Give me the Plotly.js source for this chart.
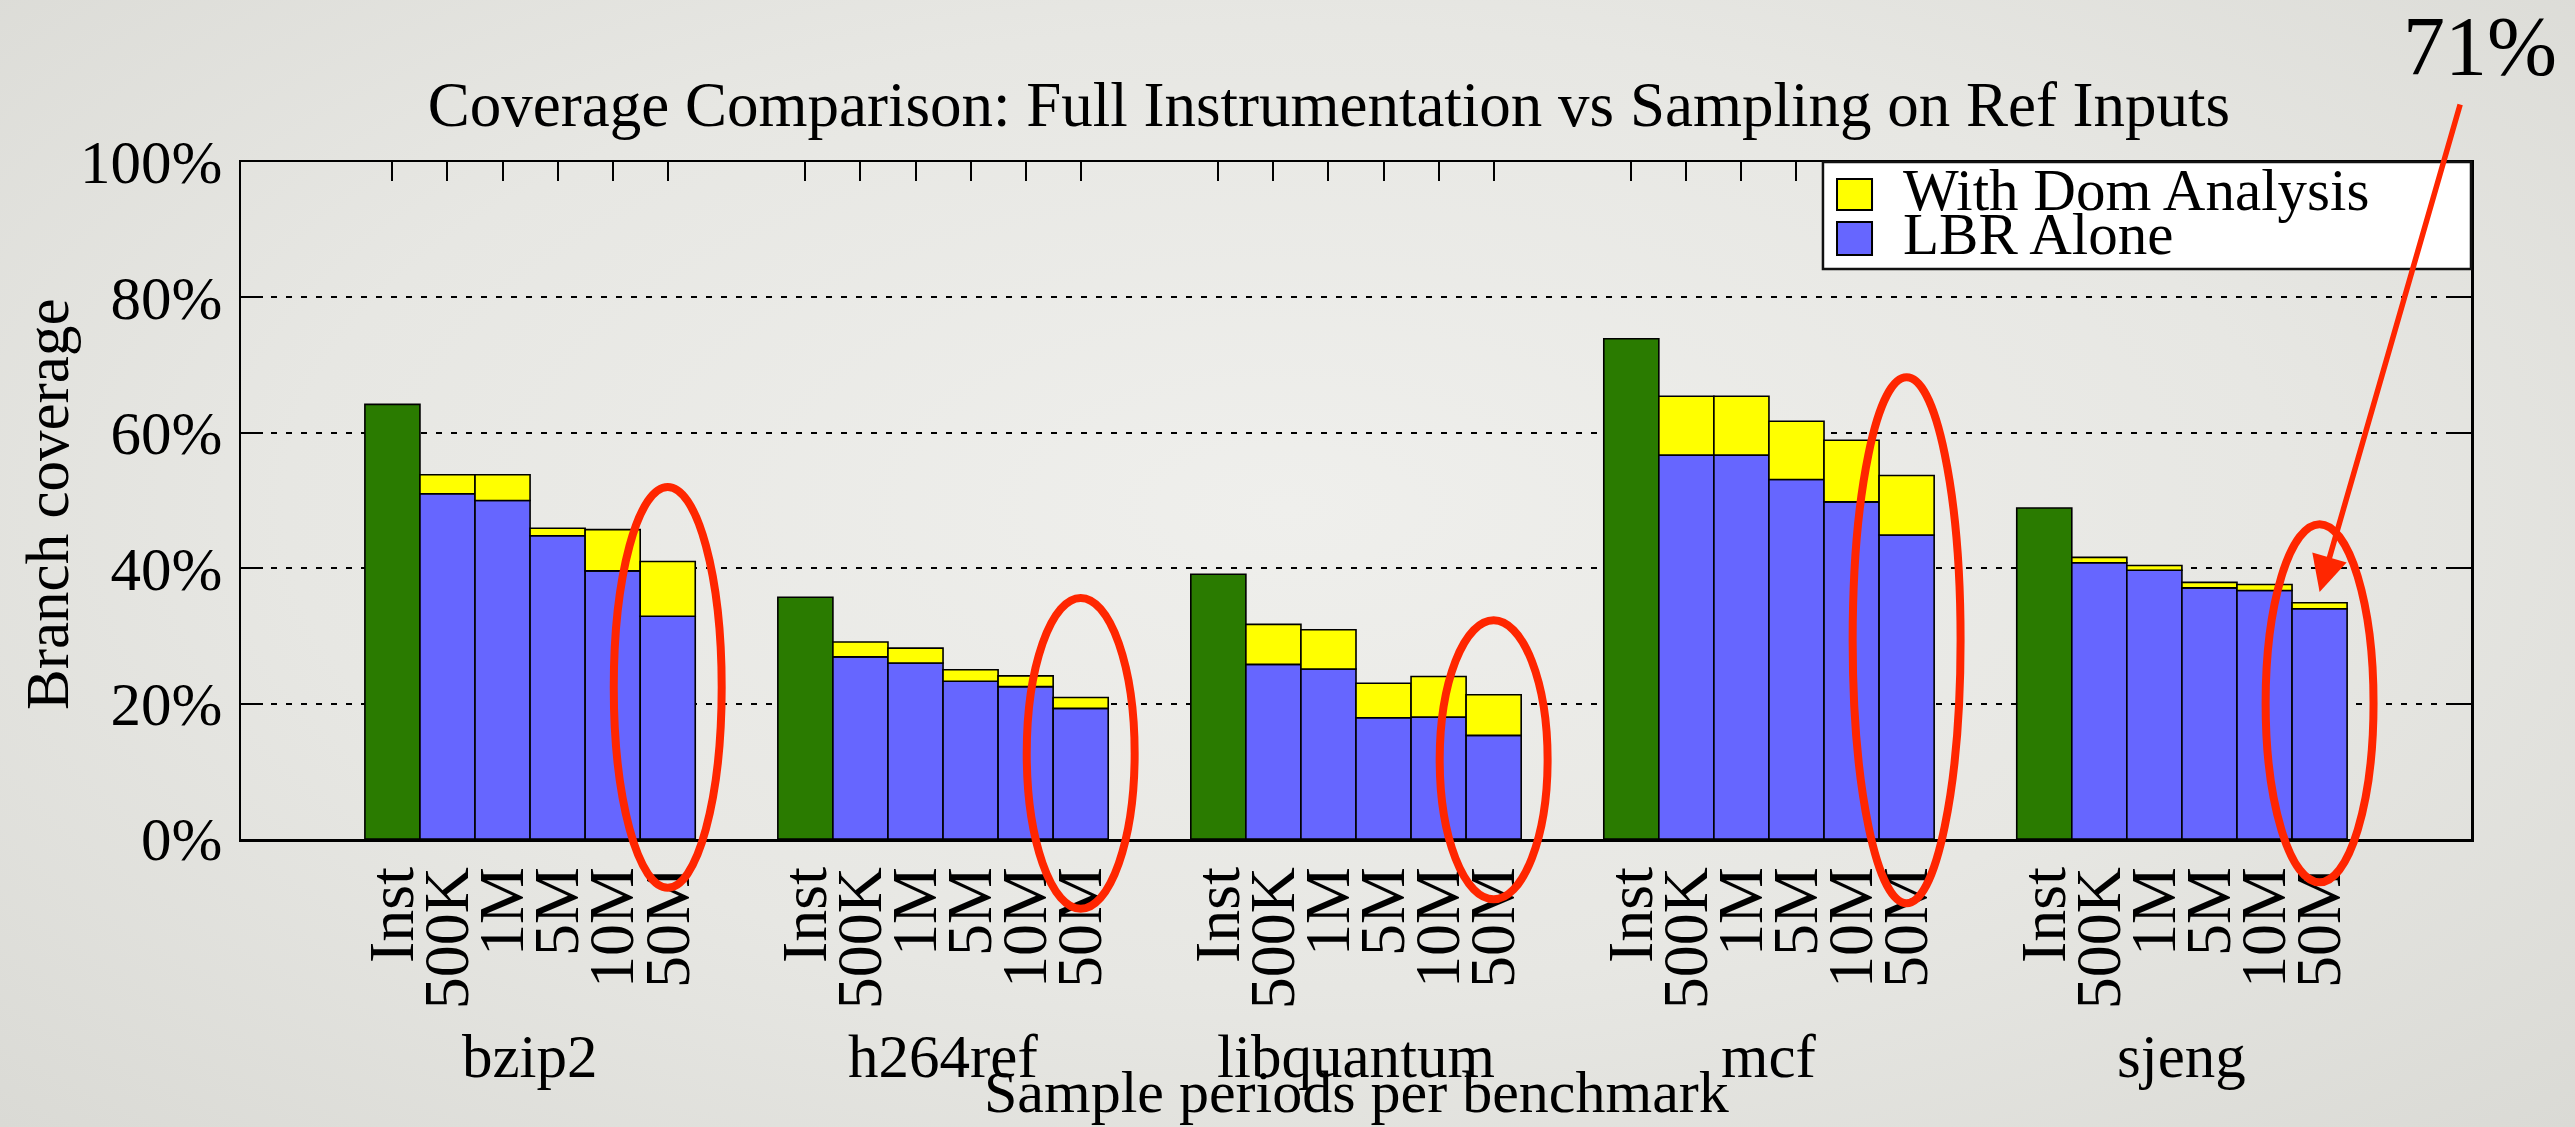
<!DOCTYPE html>
<html><head><meta charset="utf-8">
<script src="https://cdn.plot.ly/plotly-3.0.1.min.js"></script>
<style>
html,body{margin:0;padding:0;width:2575px;height:1127px;overflow:hidden;
background: radial-gradient(ellipse at 50% 45%, #EFEFEC 0%, #E7E7E3 55%, #DADAD5 100%);}
#chart{width:2575px;height:1127px;}
</style></head><body><div id="chart"></div>
<script>
// ---- data ----
const benchmarks = ['bzip2', 'h264ref', 'libquantum', 'mcf', 'sjeng'];
const periods = ['500K', '1M', '5M', '10M', '50M'];
const instLabel = 'Inst';
const instCoverage = [64.2, 35.7, 39.1, 73.9, 48.9];
const lbrAlone = [
  [51.0, 50.0, 44.8, 39.6, 32.9],
  [26.9, 26.0, 23.3, 22.5, 19.3],
  [25.8, 25.1, 17.9, 18.0, 15.3],
  [56.7, 56.7, 53.1, 49.8, 44.9],
  [40.8, 39.7, 37.1, 36.7, 34.0]
];
const withDom = [
  [53.8, 53.8, 45.9, 45.7, 41.0],
  [29.1, 28.2, 25.0, 24.1, 20.9],
  [31.7, 30.9, 23.0, 24.0, 21.3],
  [65.4, 65.4, 61.7, 58.9, 53.7],
  [41.6, 40.4, 37.9, 37.6, 34.9]
];
const yTicks = [0, 20, 40, 60, 80, 100];
const yTickText = ['0%', '20%', '40%', '60%', '80%', '100%'];
const highlightNote = '71%';

// ---- layout helpers ----
const GROUP = 7.5;                       // slot stride between benchmark groups
const XR = [-2.75, 4 * GROUP + 5 + 2.75];
const FONT = 'Liberation Serif, Times New Roman, serif';
const GREEN = '#2A7B00', BLUE = '#6666FF', YELLOW = '#FFFF00', RED = '#FF2600';
const xp = v => (v - XR[0]) / (XR[1] - XR[0]);   // data x -> paper x

const instX = benchmarks.map((b, g) => g * GROUP);
const sampX = [], lbrFlat = [], domInc = [];
benchmarks.forEach((b, g) => periods.forEach((p, k) => {
  sampX.push(g * GROUP + k + 1);
  lbrFlat.push(lbrAlone[g][k]);
  domInc.push(+(withDom[g][k] - lbrAlone[g][k]).toFixed(3));
}));
const tickvals = [], ticktext = [];
benchmarks.forEach((b, g) => {
  tickvals.push(g * GROUP); ticktext.push(instLabel);
  periods.forEach((p, k) => { tickvals.push(g * GROUP + k + 1); ticktext.push(p); });
});

const barLine = {color: '#000', width: 1.6};
const traces = [
  {type: 'bar', name: 'Inst', x: instX, y: instCoverage, width: 1,
   marker: {color: GREEN, line: barLine}, showlegend: false},
  {type: 'bar', name: 'LBR Alone', x: sampX, y: lbrFlat, width: 1,
   marker: {color: BLUE, line: barLine}, showlegend: false},
  {type: 'bar', name: 'With Dom Analysis', x: sampX, y: domInc, base: lbrFlat, width: 1,
   marker: {color: YELLOW, line: barLine}, showlegend: false}
];

// red highlight ellipses around each 50M bar (annotation extents in % units)
const ellipseTop = [52.0, 35.6, 32.3, 68.2, 46.5];
const ellipseBottom = [-7.2, -10.3, -8.9, -9.5, -6.4];
const shapes = benchmarks.map((b, g) => {
  const cx = g * GROUP + periods.length;
  return {type: 'circle', xref: 'paper', yref: 'paper', layer: 'above',
    x0: xp(cx - 0.98), x1: xp(cx + 0.98), y0: ellipseBottom[g] / 100, y1: ellipseTop[g] / 100,
    line: {color: RED, width: 8}};
});
// legend box (drawn manually to match the compact key)
shapes.push({type: 'rect', xref: 'paper', yref: 'paper', layer: 'above',
  x0: 0.7094, x1: 1.0, y0: 0.842, y1: 1.0, fillcolor: '#FFFFFF', line: {color: '#111', width: 2.5}});
shapes.push({type: 'rect', xref: 'paper', yref: 'paper', layer: 'above',
  x0: 0.7157, x1: 0.7314, y0: 0.9291, y1: 0.9749, fillcolor: YELLOW, line: {color: '#000', width: 2}});
shapes.push({type: 'rect', xref: 'paper', yref: 'paper', layer: 'above',
  x0: 0.7157, x1: 0.7314, y0: 0.8626, y1: 0.9114, fillcolor: BLUE, line: {color: '#000', width: 2}});

const annotations = benchmarks.map((b, g) => ({
  text: b, xref: 'x', yref: 'paper', x: g * GROUP + 2.5, y: -0.322,
  xanchor: 'center', yanchor: 'middle', showarrow: false, font: {family: FONT, size: 61, color: '#000'}
}));
annotations.push({text: 'Sample periods per benchmark', xref: 'paper', yref: 'paper', x: 0.5, y: -0.373,
  xanchor: 'center', yanchor: 'middle', showarrow: false, font: {family: FONT, size: 60, color: '#000'}});
annotations.push({text: 'Branch coverage', xref: 'paper', yref: 'paper', x: -0.0865, y: 0.495,
  textangle: -90, xanchor: 'center', yanchor: 'middle', showarrow: false,
  font: {family: FONT, size: 61, color: '#000'}});
annotations.push({text: 'With Dom Analysis', xref: 'paper', yref: 'paper', x: 0.7444, y: 0.9587,
  xanchor: 'left', yanchor: 'middle', showarrow: false, font: {family: FONT, size: 59, color: '#000'}});
annotations.push({text: 'LBR Alone', xref: 'paper', yref: 'paper', x: 0.7444, y: 0.8936,
  xanchor: 'left', yanchor: 'middle', showarrow: false, font: {family: FONT, size: 59, color: '#000'}});
annotations.push({text: highlightNote, xref: 'paper', yref: 'paper', x: 1.004, y: 1.170,
  xanchor: 'center', yanchor: 'middle', showarrow: false, font: {family: FONT, size: 84, color: '#000'}});
annotations.push({text: '', xref: 'x', yref: 'y', x: 4 * GROUP + periods.length, y: 36.5,
  showarrow: true, ax: 141, ay: -489, arrowhead: 2, arrowsize: 1.3, arrowwidth: 5.5,
  arrowcolor: RED, standoff: 0});

const layout = {
  width: 2575, height: 1127,
  margin: {l: 241, r: 104, t: 162, b: 288, pad: 0},
  paper_bgcolor: 'rgba(0,0,0,0)', plot_bgcolor: 'rgba(0,0,0,0)',
  font: {family: FONT, color: '#000'},
  barmode: 'overlay', bargap: 0,
  title: {text: 'Coverage Comparison: Full Instrumentation vs Sampling on Ref Inputs',
    font: {family: FONT, size: 63, color: '#000'},
    xref: 'container', yref: 'container', x: 0.5161, xanchor: 'center', y: 0.9077, yanchor: 'middle'},
  xaxis: {range: XR, tickmode: 'array', tickvals: tickvals, ticktext: ticktext,
    tickangle: -90, tickfont: {family: FONT, size: 64, color: '#000'},
    ticks: 'inside', ticklen: 19, tickwidth: 2, tickcolor: '#000',
    showline: true, linecolor: '#000', linewidth: 2.5, mirror: 'ticks',
    showgrid: false, zeroline: false, layer: 'below traces', ticklabelstandoff: 0,
    automargin: false, fixedrange: true},
  yaxis: {range: [0, 100], tickmode: 'array', tickvals: yTicks, ticktext: yTickText,
    tickfont: {family: FONT, size: 61, color: '#000'},
    ticks: 'inside', ticklen: 22, tickwidth: 2, tickcolor: '#000',
    showline: true, linecolor: '#000', linewidth: 2.5, mirror: 'ticks',
    showgrid: true, gridcolor: '#000', gridwidth: 2, griddash: '6px,9px',
    zeroline: false, layer: 'below traces', ticklabelstandoff: 4,
    automargin: false, fixedrange: true},
  shapes: shapes,
  annotations: annotations,
  showlegend: false
};

Plotly.newPlot('chart', traces, layout, {staticPlot: true, displayModeBar: false});
</script></body></html>
